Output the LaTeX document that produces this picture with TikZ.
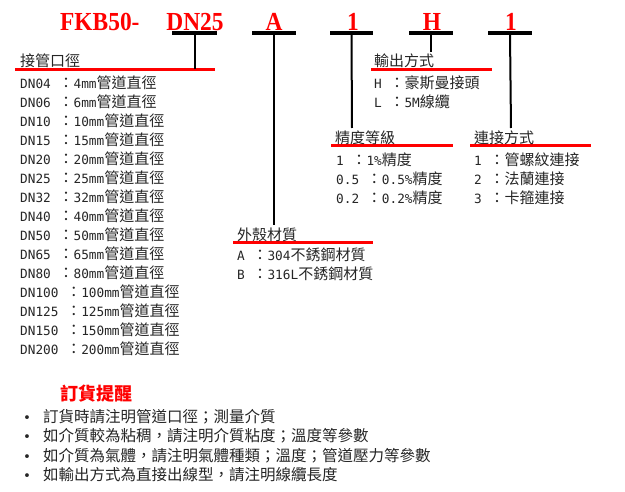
\documentclass[tikz,border=0pt]{standalone}
\usepackage{fontspec}
\setmainfont{DejaVu Sans Mono}[Scale=0.85]
\newfontfamily\latf{DejaVu Sans Mono}[Scale=0.85]
\newfontfamily\cjkf{Noto Sans CJK TC}
\newfontfamily\hdrf{Liberation Serif}[FakeStretch=0.9]
\XeTeXinterchartokenstate=1
\newXeTeXintercharclass\cjkclass
\newcount\cjkc
\def\setcjkrange#1#2{\cjkc=#1 \loop \XeTeXcharclass\cjkc=\cjkclass \advance\cjkc by 1 \ifnum\cjkc<#2 \repeat}
\setcjkrange{"3000}{"3040}
\setcjkrange{"4E00}{"A000}
\setcjkrange{"FF00}{"FFF0}
\XeTeXinterchartoks 0 \cjkclass = {\cjkf}
\XeTeXinterchartoks 4095 \cjkclass = {\cjkf}
\XeTeXinterchartoks \cjkclass 0 = {\latf}
\XeTeXinterchartoks \cjkclass 4095 = {\latf}
\tikzset{
  hdr/.style={text=red, font=\hdrf\bfseries\fontsize{26}{26}\selectfont, inner sep=0pt, anchor=base},
  txt/.style={text=black!85, font=\fontsize{15}{15}\selectfont, inner sep=0pt, anchor=base west},
  note/.style={text=black!85, font=\fontsize{15.5}{15.5}\selectfont, inner sep=0pt, anchor=base west},
  bar/.style={fill=black, inner sep=0pt, minimum height=4pt},
  stem/.style={line width=2pt},
  redline/.style={red, line width=3pt},
}
\begin{document}
\begin{tikzpicture}[x=1pt,y=-1pt]
\fill[white] (0,0) rectangle (625,492);
\useasboundingbox (0,0) rectangle (625,492);
% header
\node[hdr, anchor=base west] (h0) at (60,30.5) {FKB50-};
\node[hdr] (h1) at (195,30.5) {DN25};
\node[hdr] (h2) at (274,30.5) {A};
\node[hdr] (h3) at (353,30.5) {1};
\node[hdr] (h4) at (432,30.5) {H};
\node[hdr] (h5) at (511,30.5) {1};
% bars
\node[bar, minimum width=45pt] (b1) at (194.5,33) {};
\node[bar, minimum width=44pt] (b2) at (274,33) {};
\node[bar, minimum width=43pt] (b3) at (351.5,33) {};
\node[bar, minimum width=44pt] (b4) at (431,33) {};
\node[bar, minimum width=44pt] (b5) at (510,33) {};
% red underlines
\coordinate (u1a) at (15,69.5);  \coordinate (u1b) at (215,69.5);
\coordinate (u2a) at (371,69.5); \coordinate (u2b) at (492,69.5);
\coordinate (u3a) at (331,146);  \coordinate (u3b) at (453,146);
\coordinate (u4a) at (470,146);  \coordinate (u4b) at (591,146);
\coordinate (u5a) at (233,242.5);\coordinate (u5b) at (373,242.5);
\draw[redline] (u1a) -- (u1b);
\draw[redline] (u2a) -- (u2b);
\draw[redline] (u3a) -- (u3b);
\draw[redline] (u4a) -- (u4b);
\draw[redline] (u5a) -- (u5b);
% stems
\coordinate (s2) at (274,225);
\coordinate (s3) at (352,128);
\coordinate (s4) at (431,52);
\coordinate (s5) at (511,128);
\draw[stem] (b1.center) -- (b1.center |- u1a);
\draw[stem] (b2.center) -- (s2);
\draw[stem] (b3.center) -- (s3);
\draw[stem] (b4.center) -- (s4);
\draw[stem] (b5.center) -- (s5);
% titles
\node[txt] (t1) at (20,67) {接管口徑};
\node[txt] (t2) at (374,67) {輸出方式};
\node[txt] (t3) at (335,144) {精度等級};
\node[txt] (t4) at (474,144) {連接方式};
\node[txt] (t5) at (237,240.5) {外殼材質};
% DN list
\foreach \t [count=\i] in {DN04 ：4mm,DN06 ：6mm,DN10 ：10mm,DN15 ：15mm,DN20 ：20mm,DN25 ：25mm,DN32 ：32mm,DN40 ：40mm,DN50 ：50mm,DN65 ：65mm,DN80 ：80mm,DN100 ：100mm,DN125 ：125mm,DN150 ：150mm,DN200 ：200mm}
  {\node[txt] (dn\i) at (20,{89+19*(\i-1)}) {\t 管道直徑};}
% output
\node[txt] (o1) at (374,89) {H ：豪斯曼接頭};
\node[txt] (o2) at (374,108) {L ：5M線纜};
% accuracy
\node[txt] (p1) at (336,166) {1 ：1\%精度};
\node[txt] (p2) at (336,185) {0.5 ：0.5\%精度};
\node[txt] (p3) at (336,204) {0.2 ：0.2\%精度};
% connection
\node[txt] (c1) at (474,166) {1 ：管螺紋連接};
\node[txt] (c2) at (474,185) {2 ：法蘭連接};
\node[txt] (c3) at (474,204) {3 ：卡箍連接};
% housing
\node[txt] (m1) at (237,261) {A ：304不銹鋼材質};
\node[txt] (m2) at (237,280) {B ：316L不銹鋼材質};
% notes
\node[text=red, font=\cjkf\bfseries\fontsize{18}{18}\selectfont, inner sep=0pt, anchor=base west] (nt) at (60,401) {訂貨提醒};
\node[note] (d1) at (23,423) {•};
\node[note] (d2) at (23,442) {•};
\node[note] (d3) at (23,461) {•};
\node[note] (d4) at (23,480) {•};
\node[note] (n1) at (43,423) {訂貨時請注明管道口徑；測量介質};
\node[note] (n2) at (43,442) {如介質較為粘稠，請注明介質粘度；溫度等參數};
\node[note] (n3) at (43,461) {如介質為氣體，請注明氣體種類；溫度；管道壓力等參數};
\node[note] (n4) at (43,480) {如輸出方式為直接出線型，請注明線纜長度};
\end{tikzpicture}
\end{document}
